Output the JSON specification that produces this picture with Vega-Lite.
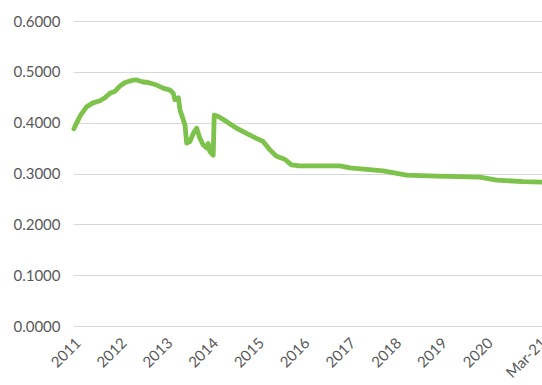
{
  "$schema": "https://vega.github.io/schema/vega-lite/v6.json",
  "width": 469,
  "height": 305,
  "autosize": {"type": "none"},
  "padding": {"left": 73, "top": 21, "right": 0, "bottom": 59},
  "background": "white",
  "config": {
    "view": {"stroke": null},
    "font": "Lato"
  },
  "data": {
    "values": [
      {"date": "2011-01-08", "value": 0.388},
      {"date": "2011-02-02", "value": 0.401},
      {"date": "2011-03-03", "value": 0.415},
      {"date": "2011-04-19", "value": 0.431},
      {"date": "2011-06-10", "value": 0.439},
      {"date": "2011-08-04", "value": 0.443},
      {"date": "2011-09-13", "value": 0.449},
      {"date": "2011-10-23", "value": 0.458},
      {"date": "2011-12-03", "value": 0.462},
      {"date": "2012-01-11", "value": 0.472},
      {"date": "2012-02-21", "value": 0.479},
      {"date": "2012-04-13", "value": 0.483},
      {"date": "2012-05-23", "value": 0.484},
      {"date": "2012-07-13", "value": 0.480},
      {"date": "2012-08-22", "value": 0.479},
      {"date": "2012-10-30", "value": 0.474},
      {"date": "2012-12-20", "value": 0.468},
      {"date": "2013-02-14", "value": 0.464},
      {"date": "2013-03-11", "value": 0.458},
      {"date": "2013-03-25", "value": 0.445},
      {"date": "2013-04-21", "value": 0.449},
      {"date": "2013-05-04", "value": 0.425},
      {"date": "2013-05-31", "value": 0.405},
      {"date": "2013-06-13", "value": 0.395},
      {"date": "2013-06-26", "value": 0.360},
      {"date": "2013-07-23", "value": 0.363},
      {"date": "2013-08-18", "value": 0.379},
      {"date": "2013-09-14", "value": 0.389},
      {"date": "2013-10-10", "value": 0.369},
      {"date": "2013-11-06", "value": 0.356},
      {"date": "2013-12-03", "value": 0.350},
      {"date": "2013-12-15", "value": 0.359},
      {"date": "2013-12-29", "value": 0.343},
      {"date": "2014-01-24", "value": 0.336},
      {"date": "2014-02-01", "value": 0.415},
      {"date": "2014-03-06", "value": 0.412},
      {"date": "2014-05-12", "value": 0.402},
      {"date": "2014-07-30", "value": 0.389},
      {"date": "2014-10-17", "value": 0.379},
      {"date": "2015-01-04", "value": 0.369},
      {"date": "2015-02-26", "value": 0.363},
      {"date": "2015-04-20", "value": 0.347},
      {"date": "2015-06-13", "value": 0.334},
      {"date": "2015-08-18", "value": 0.328},
      {"date": "2015-10-10", "value": 0.317},
      {"date": "2015-12-16", "value": 0.315},
      {"date": "2016-10-31", "value": 0.315},
      {"date": "2017-01-19", "value": 0.311},
      {"date": "2017-10-11", "value": 0.305},
      {"date": "2018-04-16", "value": 0.297},
      {"date": "2018-12-12", "value": 0.295},
      {"date": "2019-11-21", "value": 0.293},
      {"date": "2020-04-04", "value": 0.287},
      {"date": "2020-11-02", "value": 0.284},
      {"date": "2021-03-31", "value": 0.283}
    ]
  },
  "mark": {"type": "line", "color": "#7dc34b", "strokeWidth": 4.8, "strokeJoin": "round", "strokeCap": "round", "clip": false},
  "encoding": {
    "x": {
      "field": "date",
      "type": "temporal",
      "scale": {"domain": [{"year": 2011, "month": 1, "date": 1}, {"year": 2021, "month": 4, "date": 1}]},
      "axis": {
        "title": null,
        "domain": false,
        "ticks": false,
        "grid": false,
        "values": [
          {"year": 2011, "month": 1, "date": 1},
          {"year": 2012, "month": 1, "date": 1},
          {"year": 2013, "month": 1, "date": 1},
          {"year": 2014, "month": 1, "date": 1},
          {"year": 2015, "month": 1, "date": 1},
          {"year": 2016, "month": 1, "date": 1},
          {"year": 2017, "month": 1, "date": 1},
          {"year": 2018, "month": 1, "date": 1},
          {"year": 2019, "month": 1, "date": 1},
          {"year": 2020, "month": 1, "date": 1},
          {"year": 2021, "month": 3, "date": 1}
        ],
        "labelExpr": "year(datum.value) == 2021 ? 'Mar-21' : timeFormat(datum.value, '%Y')",
        "labelAngle": -45,
        "labelAlign": "right",
        "labelBaseline": "top",
        "labelPadding": 9,
        "labelFontSize": 15,
        "labelColor": "#595959",
        "labelOverlap": false,
        "labelBound": false,
        "labelFlush": false
      }
    },
    "y": {
      "field": "value",
      "type": "quantitative",
      "scale": {"domain": [0, 0.6], "nice": false},
      "axis": {
        "title": null,
        "domain": false,
        "ticks": false,
        "values": [0, 0.1, 0.2, 0.3, 0.4, 0.5, 0.6],
        "format": ".4f",
        "labelFontSize": 15,
        "labelColor": "#595959",
        "labelPadding": 13,
        "gridColor": "#d9d9d9",
        "gridWidth": 1
      }
    }
  }
}
